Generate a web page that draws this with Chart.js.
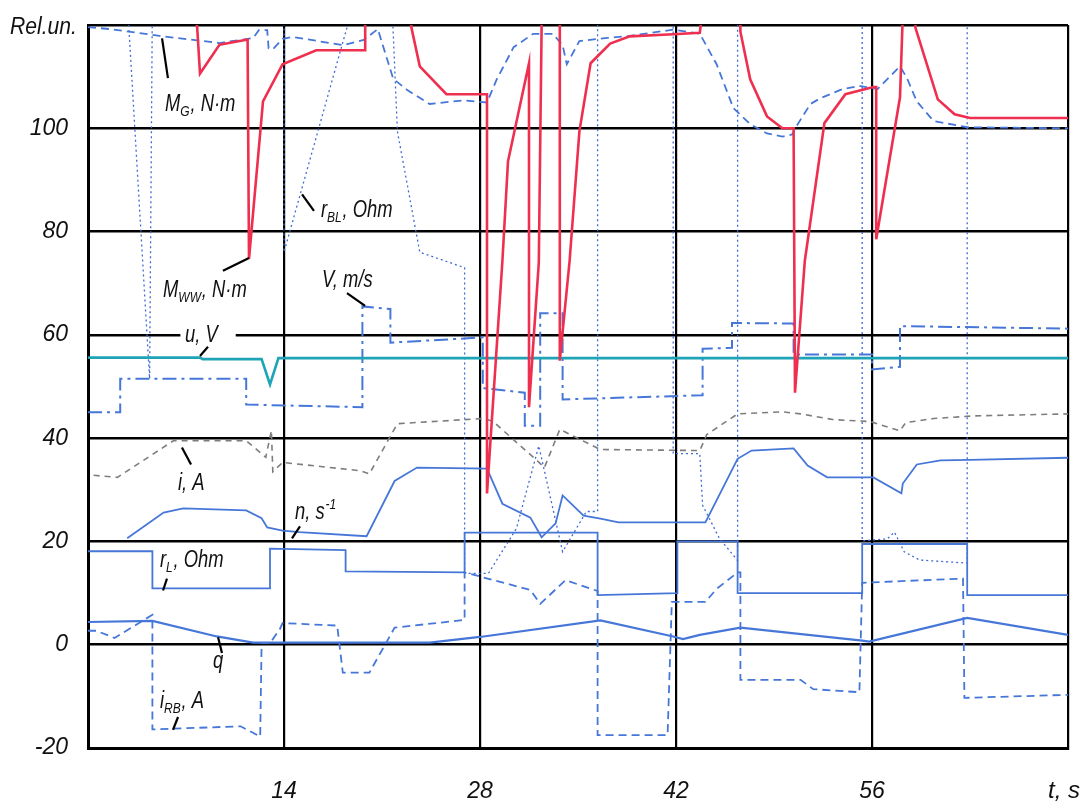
<!DOCTYPE html>
<html>
<head>
<meta charset="utf-8">
<script src="https://cdn.jsdelivr.net/npm/chart.js@4.4.1/dist/chart.umd.min.js"></script>
<style>
  html, body { margin: 0; padding: 0; background: #fff; }
  #wrap { width: 1084px; height: 807px; }
</style>
</head>
<body>
<div id="wrap"><canvas id="chart" width="1084" height="807"></canvas></div>
<script>
// ---------------- DATA  ([t, s ; value, rel. units]) ----------------
const xTicks = [0, 14, 28, 42, 56, 70];
const xTickLabels = ["", "14", "28", "42", "56", ""];
const xAxisTitle = "t, s";
const yAxisTitle = "Rel.un.";

// red solid
const M_WW = [[7.5,125],[7.8,119.5],[8.0,110.6],[9.4,116.2],[11.4,117.2],[11.5,74.7],[12.5,105.2],[13.9,112.4],
  [16.3,115.1],[19.8,115.1],[19.8,125],[23.1,125],[23.1,119.5],[23.7,112],[25.6,106.6],[28.5,106.6],[28.5,29.3],
  [29.6,74.3],[30.0,93.6],[31.5,112.6],[31.5,46],[32.2,74],[32.4,119.5],[32.5,125],[33.7,125],[33.7,119.5],[33.7,55],
  [34.4,74.3],[35.1,99.4],[35.9,112.6],[37.3,116.4],[38.7,117.8],[41.8,118.2],[43.7,118.5],[44.0,125],[46.6,125],
  [46.6,118.7],[47.3,109.5],[48.5,102.3],[49.6,100],[50.4,100],[50.5,48.8],[51.2,74.3],[52.6,101],[54.1,106.6],
  [56.1,108],[56.3,108],[56.3,78.5],[58.0,106],[58.2,122],[59.1,122],[59.1,119.5],[60.7,105.6],[61.9,102.7],[63,102],[70,102]];

// blue dashed (top)
const M_G = [[0,119.6],[1.6,119.2],[5.1,117.9],[9.4,116.5],[11.8,117.5],[12.2,119],[12.8,119],[12.9,115.5],[13.2,115.3],
  [13.9,117.3],[14.6,117.7],[18.2,116.1],[19.7,117.1],[20.7,119.2],[21.8,109.6],[22.8,107.4],[24.4,104.7],[26.8,105.4],
  [28.5,105],[29.2,109.5],[30.4,115.7],[31.8,118.3],[33.2,118.3],[33.9,116.1],[34.2,112.4],[35.1,116.9],[37.1,117.5],
  [38.7,117.9],[41.8,119.1],[43.7,118.3],[44.9,112.4],[46.1,103.9],[47.3,100.8],[48.5,99],[49.6,98.4],[50.3,98.8],
  [50.6,100.4],[51.6,104.7],[52.3,105.8],[53.9,107.6],[55.1,108.2],[56.4,107.6],[58,112],[58.5,109.7],[59.2,105.2],
  [60.4,101.4],[62.8,100.2],[70,100]];

// blue dotted
const R_BL = [[0,125],[2.8,125],[4.4,51.5],[4.6,125],[14,125],[14,76],[18.6,120.5],[18.7,125],[21.7,125],[22.1,99.4],
  [23.7,76],[26.9,73],[26.9,13.8],[28.6,13.8],[30.6,22.5],[32.2,38.5],[33.9,18],[35.6,25.8],[36.4,25.8],[36.4,125],
  [41.8,125],[41.8,37],[43.7,37],[43.9,27],[45.1,20.6],[46.4,16.3],[46.4,125],[55.3,125],[55.3,20.1],[57.1,20.5],
  [57.6,21.8],[58.3,18],[59.4,16.4],[62.8,15.8],[62.8,125],[70,125]];

// blue dash-dot
const V_MS = [[0,45],[2.3,45],[2.3,51.5],[11.3,51.5],[11.3,46.5],[19.6,46],[19.6,65.5],[21.6,65],[21.6,58.5],[28.2,59.5],
  [28.2,49.7],[31.2,48.8],[31.2,42.4],[32.3,42.4],[32.3,64.2],[33.9,64.2],[33.9,47.5],[43.9,48.3],[43.9,57.3],[46,57.5],
  [46,62.3],[50.4,62.2],[50.4,56.2],[56,56.2],[56,53.3],[58,53.8],[58,61.7],[70,61.2]];

// teal solid
const U_V = [[0,55.6],[8,55.6],[8.2,55.3],[12.4,55.3],[13.0,50.4],[13.6,55.5],[70,55.5]];

// grey dashed
const I_A = [[0.4,32.8],[2.1,32.4],[6.1,39.5],[11.3,39.5],[12.7,36.3],[13.1,41.5],[13.2,33.5],[13.9,35.3],[19.4,33.7],
  [20.1,33.1],[22.1,42.8],[28.2,43.8],[28.9,43.3],[32.1,35.6],[32.6,34.3],[33.7,41.7],[36.6,37.8],[43.7,37.6],
  [44.2,40.7],[46.4,44.7],[49.6,45.1],[50.9,44.7],[53.2,43.6],[55.9,43.2],[58,41.4],[58.4,43],[60.4,43.8],[63.2,44.3],[70,44.7]];

// blue solid
const N_S = [[2.8,20.6],[5.4,25.6],[6.8,26.4],[11.3,26],[12.4,24.5],[12.8,22.7],[13.9,22.1],[15.1,21.8],[19.9,21],
  [21.9,31.7],[23.5,34.3],[28.5,34.1],[29.6,27.3],[31.6,24.6],[32.4,20.8],[33.4,23.5],[33.9,28.9],[35.4,25],[36.6,24.4],
  [37.9,23.7],[44.1,23.7],[46.4,36],[47.4,37.6],[50.4,38],[51.4,34.7],[52.8,32.4],[56.1,32.4],[58.1,29.3],[58.2,31.2],
  [59.2,34.9],[60.9,35.7],[63,35.8],[70,36.2]];

const R_L = [[0,18.1],[4.6,18.1],[4.6,10.9],[13,10.9],[13,18.6],[18.4,18.3],[18.4,14.2],[26.9,14],[26.9,21.7],[36.4,21.7],
  [36.4,9.6],[42.1,10],[42.1,20],[46.4,20],[46.4,10],[55.3,10],[55.3,19.5],[62.8,19.5],[62.8,9.6],[70,9.6]];

const Q = [[0,4.4],[4.6,4.6],[9.2,1.6],[11.8,0.4],[24.4,0.4],[28,1.5],[36.6,4.7],[41.8,1.6],[42.5,1.1],[43.7,1.9],
  [46.6,3.3],[55.3,0.8],[55.8,0.6],[62.8,5.2],[70,1.9]];

// blue dashed (bottom)
const I_RB = [[0,2.7],[0.6,2.7],[1.9,1.3],[4.6,5.8],[4.6,-16.4],[10.9,-15.8],[12.3,-17.8],[12.4,0.3],[13,0.3],[13.7,3],
  [13.9,4.2],[17.8,3.7],[18.2,-5.4],[20.1,-5.4],[21.9,3.3],[26.9,4.8],[26.9,14],[31.6,10.6],[32.3,7.9],[34.1,12.5],
  [36.4,10.4],[36.4,-17.5],[41.4,-17.5],[41.7,8.3],[44.1,8.3],[44.9,10.8],[46.4,14],[46.6,14],[46.6,-6.8],[50.9,-6.8],
  [51.8,-8.6],[55.1,-9.2],[55.3,12],[62.5,12.8],[62.6,-10.3],[70,-9.7]];

// series captions: text parts [text, "sub"|"sup"|""], text anchor (t, v), leader line (t1, v1, t2, v2)
const captions = [
  { parts: [["M",""],["G","sub"],[", N·m",""]], at: [5.5,103.3], lead: [5.29,117.4,5.71,109.7] },
  { parts: [["r",""],["BL","sub"],[", Ohm",""]], at: [16.64,82.8], lead: [15.29,87.2,16.14,84.0] },
  { parts: [["M",""],["WW","sub"],[", N·m",""]], at: [5.36,67.3], lead: [9.64,72.4,11.5,74.9] },
  { parts: [["V, m/s",""]], at: [16.71,69.2], lead: [18.5,68.1,19.79,65.6] },
  { parts: [["u, V",""]], at: [6.93,58.6], lead: [8.0,55.9,8.57,57.7] },
  { parts: [["i, A",""]], at: [6.43,29.9], lead: [6.71,38.2,7.36,34.9] },
  { parts: [["n, s",""],["-1","sup"]], at: [14.79,24.3], lead: [14.57,20.6,15.14,22.9] },
  { parts: [["r",""],["L","sub"],[", Ohm",""]], at: [5.14,15.0], lead: [5.36,10.5,5.64,12.8] },
  { parts: [["q",""]], at: [8.93,-4.6], lead: [9.29,1.45,9.57,-1.6] },
  { parts: [["i",""],["RB","sub"],[", A",""]], at: [5.14,-12.3], lead: [6.07,-16.5,6.43,-14.0] }
];

// ---------------- HELPERS ----------------
const FONT = "'Liberation Sans', Arial, sans-serif";
const SQUEEZE = 0.8;   // the printed lettering is narrow
const toXY = arr => arr.map(([t, v]) => ({ x: t, y: v }));

function series(data, color, width, dash) {
    return {
        data: toXY(data),
        borderColor: color,
        borderWidth: width,
        borderDash: dash || [],
        pointRadius: 0,
        tension: 0,
        fill: false
    };
}

// ---------------- CAPTIONS PLUGIN ----------------
const captionPlugin = {
    id: "captions",
    beforeDatasetsDraw(chart) {
        // gap in the 60 grid line behind "u, V"
        const { ctx, scales: { x, y } } = chart;
        const x1 = x.getPixelForValue(6.6), x2 = x.getPixelForValue(10.55);
        const yy = y.getPixelForValue(60);
        ctx.save();
        ctx.fillStyle = "#fff";
        ctx.fillRect(x1, yy - 3, x2 - x1, 6);
        ctx.restore();
    },
    afterDatasetsDraw(chart) {
        const { ctx, scales: { x, y } } = chart;
        ctx.save();
        ctx.strokeStyle = "#000";
        ctx.lineWidth = 2.2;
        ctx.fillStyle = "#111";
        ctx.textBaseline = "alphabetic";
        captions.forEach(c => {
            const [t1, v1, t2, v2] = c.lead;
            ctx.beginPath();
            ctx.moveTo(x.getPixelForValue(t1), y.getPixelForValue(v1));
            ctx.lineTo(x.getPixelForValue(t2), y.getPixelForValue(v2));
            ctx.stroke();

            const px0 = x.getPixelForValue(c.at[0]);
            const py = y.getPixelForValue(c.at[1]);
            ctx.save();
            ctx.translate(px0, py);
            ctx.scale(SQUEEZE, 1);
            let px = 0;
            c.parts.forEach(([txt, kind]) => {
                if (kind === "sub") {
                    ctx.font = "italic 15px " + FONT;
                    ctx.fillText(txt, px, 5);
                } else if (kind === "sup") {
                    ctx.font = "italic 15px " + FONT;
                    ctx.fillText(txt, px + 1, -10);
                } else {
                    ctx.font = "italic 23px " + FONT;
                    ctx.fillText(txt, px, 0);
                }
                px += ctx.measureText(txt).width + (kind ? 1 : 0);
            });
            ctx.restore();
        });
        ctx.restore();
    },
    afterDraw(chart) {
        // axis captions at the ends of the axes
        const { ctx, chartArea } = chart;
        ctx.save();
        ctx.fillStyle = "#111";
        ctx.font = "italic 24px " + FONT;
        ctx.textBaseline = "middle";
        ctx.save();
        ctx.translate(10, chartArea.top + 2);
        ctx.scale(0.88, 1);
        ctx.fillText(yAxisTitle, 0, 0);
        ctx.restore();
        ctx.textAlign = "right";
        ctx.fillText(xAxisTitle, 1080, 791);
        ctx.restore();
    }
};

// ---------------- CHART ----------------
const BLUE = "#4677d8";

new Chart(document.getElementById("chart"), {
    type: "line",
    data: {
        datasets: [
            series(M_WW, "#ef2f4f", 2.6),
            series(U_V, "#1ea4b6", 2.6),
            series(N_S, BLUE, 1.8),
            series(R_L, BLUE, 1.8),
            series(Q, BLUE, 2.2),
            series(M_G, BLUE, 1.8, [8, 5]),
            series(I_RB, BLUE, 1.8, [8, 5]),
            series(V_MS, BLUE, 2, [14, 5, 3, 5]),
            series(I_A, "#7d7d7d", 1.6, [6, 5]),
            series(R_BL, "#3f6ad2", 1.3, [2, 3])
        ]
    },
    options: {
        responsive: false,
        animation: false,
        devicePixelRatio: 1,
        layout: { padding: { top: 25, right: 16, left: 0, bottom: 0 } },
        plugins: {
            legend: { display: false },
            tooltip: { enabled: false }
        },
        scales: {
            x: {
                type: "linear",
                min: 0,
                max: 70,
                afterBuildTicks(scale) { scale.ticks = xTicks.map(v => ({ value: v })); },
                afterFit(scale) {
                    scale.height = 59;
                    scale.paddingLeft = 0;
                    scale.paddingRight = 0;
                },
                ticks: {
                    autoSkip: false,
                    maxRotation: 0,
                    padding: 30,
                    color: "#111",
                    font: { family: FONT, size: 23, style: "italic" },
                    callback: v => xTickLabels[xTicks.indexOf(v)]
                },
                grid: { color: "#000", lineWidth: 2.2, drawTicks: false },
                border: { color: "#000", width: 3 }
            },
            y: {
                min: -20,
                max: 120,
                afterFit(scale) {
                    scale.width = 88;
                    scale.paddingTop = 0;
                    scale.paddingBottom = 0;
                },
                ticks: {
                    stepSize: 20,
                    autoSkip: false,
                    padding: 20,
                    color: "#111",
                    font: { family: FONT, size: 23, style: "italic" },
                    callback: v => (v === 120 ? "" : v)
                },
                grid: { color: "#000", lineWidth: 2.6, drawTicks: false },
                border: { color: "#000", width: 3 }
            }
        }
    },
    plugins: [captionPlugin]
});
</script>
</body>
</html>
